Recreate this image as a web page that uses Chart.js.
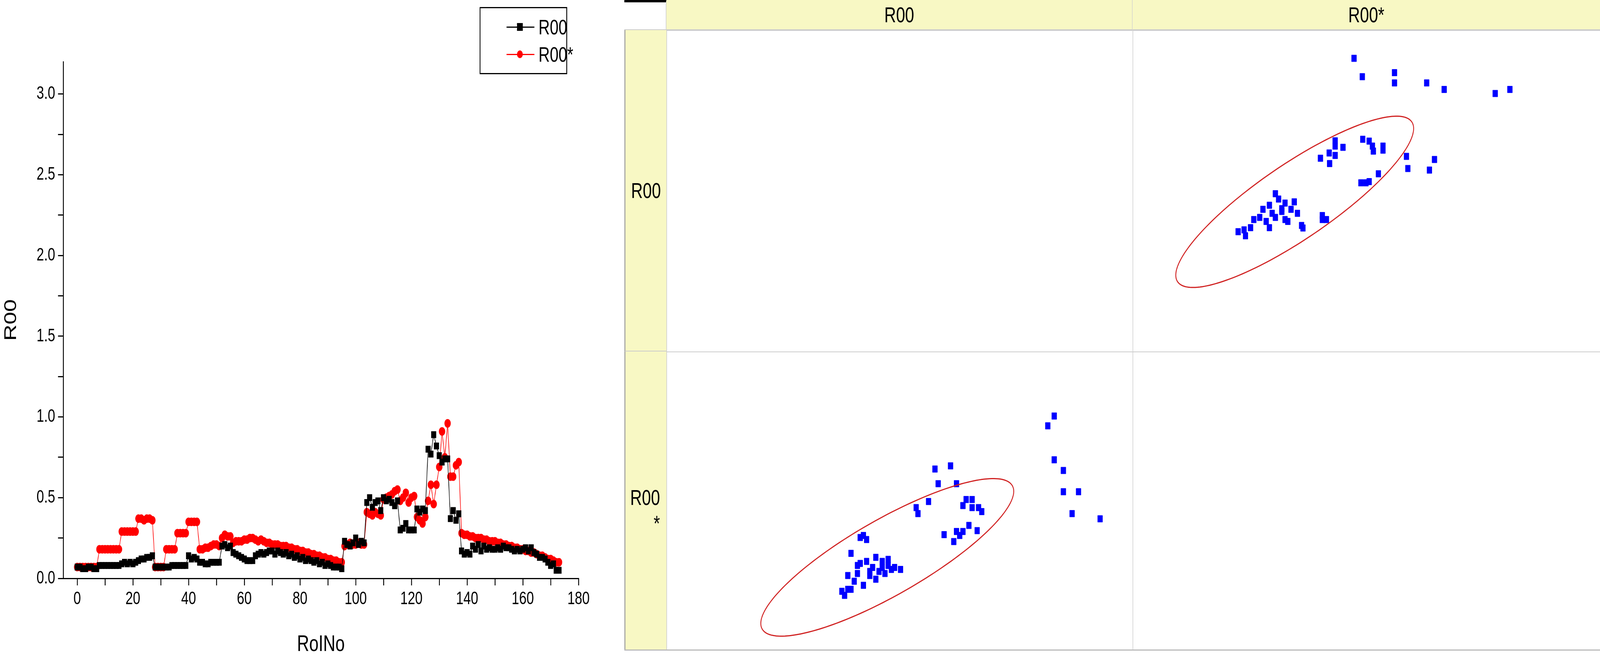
<!DOCTYPE html>
<html><head><meta charset="utf-8">
<script src="https://cdn.jsdelivr.net/npm/chart.js@4"></script>
<style>
html,body{margin:0;padding:0;overflow:hidden;background:#fff;}
#wrap{position:absolute;left:0;top:0;width:5515px;height:1690px;background:#fff;transform-origin:0 0;font-family:"Liberation Sans",Arial,sans-serif;}
#left{position:absolute;left:0;top:0;}
#legend{position:absolute;left:1653px;top:18px;width:296px;height:166px;border:3px solid #000;background:#fff;}
.lr{position:absolute;left:0;height:60px;width:100%;}
.lr .ln{position:absolute;left:90px;width:96px;top:29px;height:3px;}
.lr .mk{position:absolute;}
.lr .tx{position:absolute;left:200px;top:0;font-size:54px;line-height:60px;}
.cell{position:absolute;box-sizing:border-box;}
.hdr{background:#f8f8c4;font-size:56px;color:#000;display:flex;align-items:center;justify-content:center;}
</style></head><body>
<div id="wrap">
<canvas id="left" width="2140" height="1690"></canvas>
<div id="legend">
 <div class="lr" style="top:18px"><div class="ln" style="background:#000"></div><div class="mk" style="left:126px;top:20px;width:20px;height:20px;background:#000"></div><div class="tx">R00</div></div>
 <div class="lr" style="top:88px"><div class="ln" style="background:#f00"></div><div class="mk" style="left:126px;top:20px;width:20px;height:20px;border-radius:50%;background:#f00"></div><div class="tx">R00*</div></div>
</div>
<div id="table"></div>
</div>
<script>
const roiNo = Array.from({length:174},(_, i)=>i);
const r00 = [
0.07,0.07,0.06,0.06,0.07,0.07,0.06,0.06,
0.08,0.08,0.08,0.08,0.08,0.08,0.08,0.08,
0.09,0.10,0.09,0.10,0.09,0.10,
0.11,0.12,0.12,0.13,0.13,0.14,
0.07,0.07,0.07,0.07,
0.07,0.07,0.08,0.08,0.08,0.08,0.08,0.08,
0.14,0.12,0.13,0.12,
0.10,0.10,0.09,0.09,0.10,0.10,0.10,0.10,
0.20,0.21,0.19,0.20,
0.16,0.15,0.14,0.13,0.12,0.11,0.11,0.11,
0.14,0.15,0.16,0.15,0.16,0.17,0.17,
0.15,0.17,0.16,0.15,0.16,0.14,0.15,0.13,0.14,0.12,0.13,0.11,0.12,0.11,0.10,0.11,0.09,0.10,0.08,0.09,0.08,0.07,0.07,0.07,0.06,
0.23,0.21,0.20,0.22,0.25,0.21,0.23,0.22,
0.47,0.50,0.44,0.47,0.48,0.42,0.50,0.48,0.49,0.47,0.45,0.48,
0.30,0.31,0.34,0.30,0.30,0.30,
0.43,0.41,0.43,0.42,
0.80,0.77,0.89,0.82,0.76,0.72,0.74,0.74,
0.37,0.42,0.36,0.40,
0.17,0.15,0.16,0.15,0.20,0.18,0.21,0.17,0.20,0.18,0.19,0.18,0.18,0.19,0.18,0.20,0.19,0.19,0.18,0.17,0.18,0.17,0.18,0.19,0.17,0.19,0.16,0.15,0.13,0.13,0.12,0.10,0.08,0.09,0.05,0.05];
const r00s = [
0.07,0.07,0.07,0.07,0.07,0.07,0.07,0.07,
0.18,0.18,0.18,0.18,0.18,0.18,0.18,0.18,
0.29,0.29,0.29,0.29,0.29,0.29,
0.37,0.37,0.36,0.37,0.37,0.36,
0.07,0.07,0.07,0.07,
0.18,0.18,0.18,0.18,
0.28,0.28,0.28,0.28,
0.35,0.35,0.35,0.35,
0.18,0.18,0.19,0.19,0.20,0.21,0.21,0.20,
0.25,0.27,0.26,0.26,
0.22,0.23,0.23,0.23,0.24,0.24,0.25,0.25,0.24,0.23,0.24,0.23,0.22,0.22,0.21,
0.21,0.21,0.20,0.20,0.20,0.19,0.19,0.18,0.18,0.17,0.17,0.16,0.16,0.15,0.15,0.14,0.14,0.13,0.13,0.12,0.12,0.11,0.11,0.10,0.10,
0.20,0.21,0.22,0.21,0.21,0.22,0.21,0.21,
0.41,0.40,0.39,0.41,0.40,0.39,
0.49,0.50,0.51,0.52,0.54,0.55,
0.48,0.50,0.53,0.47,0.50,0.51,
0.38,0.36,0.34,0.38,
0.48,0.58,0.46,0.58,0.69,0.91,0.75,0.96,
0.63,0.63,0.70,0.72,
0.28,0.27,0.27,0.26,0.26,0.25,0.25,0.25,0.24,0.24,0.23,0.23,0.23,0.22,0.22,0.21,0.21,0.20,0.20,0.19,0.19,0.18,0.18,0.17,0.17,0.16,0.16,0.15,0.14,0.14,0.13,0.12,0.12,0.11,0.10,0.10];
const xTicks=[0,20,40,60,80,100,120,140,160,180];
const yTicks=[0,0.5,1.0,1.5,2.0,2.5,3.0];
const headers=["R00","R00*"];

const blX=[.413,.427,.420,.393,.413,.447,.461,.474,.440,.454,.467,.481,.501,.434,.447,.407,.386,.400,.420,.393,.373,.379,.386,.407,.427,.461,.488,.474,.434,
.535,.539,.562,.583,.623,.576,.610,.637,.644,.657,.657,.671,.678,.596,.617,.623,.630,.650,.668,.637,
.836,.822,.836,.856,.856,.889,.875,.936];
const blY=[.374,.367,.381,.319,.284,.305,.291,.298,.270,.256,.249,.263,.263,.242,.229,.249,.242,.222,.208,.194,.187,.173,.194,.277,.291,.270,.270,.277,.256,
.478,.457,.499,.561,.561,.612,.623,.485,.506,.506,.478,.478,.464,.384,.360,.395,.381,.416,.398,.395,
.796,.762,.644,.607,.533,.533,.457,.439];
const trX=[.472,.490,.560,.560,.630,.668,.779,.811,
.431,.431,.448,.418,.431,.399,.419,.491,.505,.512,.514,.535,.535,.586,.589,.647,.636,.525,.505,.487,.498,
.301,.308,.288,.322,.342,.335,.349,.315,.294,.274,.267,.254,.281,.301,.322,.328,.288,.247,.233,.220,.236,.358,.361,.403,.412,.403,.315];
const trY=[.928,.869,.882,.849,.849,.828,.815,.828,
.663,.646,.642,.624,.616,.607,.590,.668,.662,.646,.630,.646,.633,.613,.574,.603,.569,.557,.532,.528,.528,
.493,.476,.456,.463,.467,.443,.430,.436,.430,.443,.417,.410,.404,.417,.410,.404,.384,.384,.377,.371,.358,.391,.383,.423,.410,.410,.445];
const blEllipse={c:[.472,.305],u:[.2745,.2425],v:[.026,-.127]};
const trEllipse={c:[.343,.467],u:[.257,.25],v:[.029,-.115]};

(function(){const w=document.getElementById('wrap');const sx=window.innerWidth/5515,sy=window.innerHeight/1690;w.style.transform=`scale(${sx},${sy})`;})();

const FONT="'Liberation Sans', Arial, sans-serif";
new Chart(document.getElementById('left'),{
 type:'line',
 data:{datasets:[
  {label:'R00',data:roiNo.map((x,i)=>({x,y:r00[i]})),borderColor:'#000',backgroundColor:'#000',borderWidth:2,pointStyle:'rect',pointRadius:11,pointHoverRadius:11},
  {label:'R00*',data:roiNo.map((x,i)=>({x,y:r00s[i]})),borderColor:'#f00',backgroundColor:'#f00',borderWidth:2,pointStyle:'circle',pointRadius:10,pointHoverRadius:10}
 ]},
 options:{responsive:false,animation:false,devicePixelRatio:1,
  layout:{padding:{top:158,right:146,left:0,bottom:0}},
  plugins:{legend:{display:false},tooltip:{enabled:false}},
  scales:{
   x:{type:'linear',min:-5,max:180,
    afterBuildTicks:s=>{const t=[];for(let v=0;v<=180;v+=10)t.push({value:v});s.ticks=t;},
    afterFit:s=>{s.height=209;},
    ticks:{callback:v=>xTicks.includes(v)?String(v):'',font:{size:46,family:FONT},color:'#000',padding:8,maxRotation:0,autoSkip:false},
    grid:{drawOnChartArea:false,tickLength:18,color:'#000',lineWidth:3},
    border:{color:'#000',width:3},
    title:{display:true,text:'RoINo',font:{size:58,family:FONT},color:'#000',padding:{top:14}}},
   y:{type:'linear',min:0,max:3.2,
    afterBuildTicks:s=>{const t=[];for(let v=0;v<=3.0001;v+=0.25)t.push({value:Math.round(v*100)/100});s.ticks=t;},
    afterFit:s=>{s.width=218;},
    ticks:{callback:v=>yTicks.includes(v)?v.toFixed(1):'',font:{size:46,family:FONT},color:'#000',padding:10,autoSkip:false},
    grid:{drawOnChartArea:false,tickLength:18,color:'#000',lineWidth:3},
    border:{color:'#000',width:3},
    title:{display:true,text:'R00',font:{size:58,family:FONT},color:'#000',padding:{bottom:10}}}
  }}
});

const T=document.getElementById('table');
function cell(l,t,w,h,cls,html,style){const d=document.createElement('div');d.className='cell '+(cls||'');d.style.cssText=`left:${l}px;top:${t}px;width:${w}px;height:${h}px;`+(style||'');if(html)d.innerHTML=html;T.appendChild(d);return d;}
const X0=2152,XC=2297,XM=3904,XE=5515,Y0=0,YH=77,YM=900,YE=1663;
cell(X0,Y0,XC-X0,YH,'', '', 'background:#fff;border-top:6px solid #000;border-right:2px solid #ccc;border-bottom:2px solid #ccc;');
cell(XC,Y0,XM-XC,YH,'hdr',headers[0],'border-right:2px solid #ccc;border-bottom:2px solid #ccc;');
cell(XM,Y0,XE-XM,YH,'hdr',headers[1],'border-bottom:2px solid #ccc;');
cell(X0,YH,XC-X0,YM-YH,'hdr',headers[0],'border-bottom:2px solid #ccc;border-left:4px solid #aaa;');
cell(X0,YM,XC-X0,YE-YM,'hdr','<div style="text-align:right;padding-right:6px;line-height:66px;margin-top:50px">'+headers[1].slice(0,3)+'<br>'+headers[1].slice(3)+'</div>','border-left:4px solid #aaa;');
cell(X0,YE,XE-X0,1690-YE,'','', 'background:#fff;border-top:3px solid #bbb;');
const grid='border-left:2px solid #ccc;border-top:2px solid #ccc;';
cell(XC,YH,XM-XC,YM-YH,'','',grid);
cell(XM,YM,XE-XM,YE-YM,'','',grid);
const c1=cell(XM,YH,XE-XM,YM-YH,'','',grid);
const c2=cell(XC,YM,XM-XC,YE-YM,'','',grid);

const ellipsePlugin={id:'ell',afterDatasetsDraw(ch){const e=ch.options.plugins.ell.e;const ctx=ch.ctx,xs=ch.scales.x,ys=ch.scales.y;ctx.save();ctx.strokeStyle='#d02020';ctx.lineWidth=3;ctx.beginPath();
 for(let k=0;k<=200;k++){const t=k/200*2*Math.PI;const px=e.c[0]+e.u[0]*Math.cos(t)+e.v[0]*Math.sin(t);const py=e.c[1]+e.u[1]*Math.cos(t)+e.v[1]*Math.sin(t);const X=xs.getPixelForValue(px),Y=ys.getPixelForValue(py);k?ctx.lineTo(X,Y):ctx.moveTo(X,Y);}ctx.closePath();ctx.stroke();ctx.restore();}};
function scatter(host,xv,yv,ell){const cv=document.createElement('canvas');const w=parseFloat(host.style.width),h=parseFloat(host.style.height);cv.width=w;cv.height=h;cv.style.cssText='position:absolute;left:0;top:0;';host.appendChild(cv);
 new Chart(cv,{type:'scatter',data:{datasets:[{data:xv.map((x,i)=>({x,y:yv[i]})),backgroundColor:'#0000ff',borderColor:'#0000ff',pointStyle:'rect',pointRadius:12,pointHoverRadius:12}]},
 options:{responsive:false,animation:false,devicePixelRatio:1,layout:{padding:0},plugins:{legend:{display:false},tooltip:{enabled:false},ell:{e:ell}},
  scales:{x:{display:false,min:0,max:1},y:{display:false,min:0,max:1}}},plugins:[ellipsePlugin]});}
scatter(c1,trX,trY,trEllipse);
scatter(c2,blX,blY,blEllipse);
</script></body></html>
